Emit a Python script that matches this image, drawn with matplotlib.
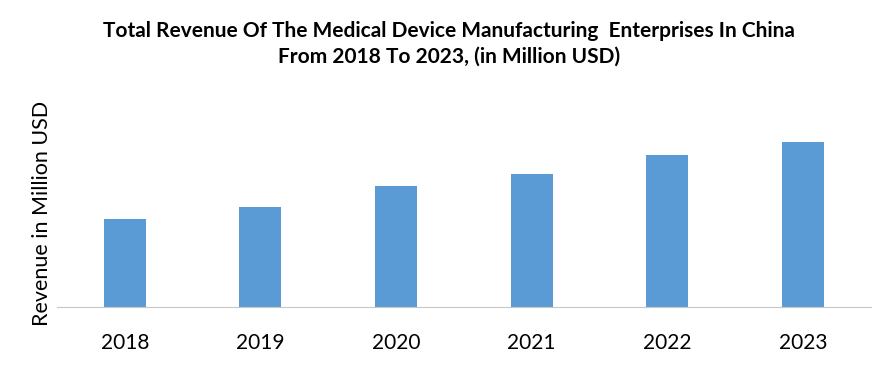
import matplotlib.pyplot as plt

years = ["2018", "2019", "2020", "2021", "2022", "2023"]
revenue = [88, 100, 121, 133, 152, 165]

plt.rcParams['font.family'] = ['Lato', 'DejaVu Sans']

fig = plt.figure(figsize=(8.94, 3.65), dpi=100)
ax = fig.add_axes([0.0638, 0.159, 0.9102, 0.575])

ax.bar(range(len(years)), revenue, width=0.31, color="#5B9BD5")
ax.set_xlim(-0.5, len(years) - 0.5)
ax.set_ylim(0, 210)

ax.set_xticks(range(len(years)))
ax.set_xticklabels(years, fontsize=15)
ax.tick_params(axis='x', length=0, pad=19)
ax.set_yticks([])

for s in ["top", "right", "left"]:
    ax.spines[s].set_visible(False)
ax.spines["bottom"].set_color("#C8C8C8")
ax.spines["bottom"].set_linewidth(0.8)

fig.text(42 / 894, 1 - 213 / 365, "Revenue in Million USD", rotation=90,
         ha="center", va="center", fontsize=15.5)

fig.text(0.502, 0.879, "Total Revenue Of The Medical Device Manufacturing  Enterprises In China\nFrom 2018 To 2023, (in Million USD)",
         ha="center", va="center", fontsize=15, fontweight="bold", linespacing=1.35)

fig.savefig("out.png", dpi=100)
